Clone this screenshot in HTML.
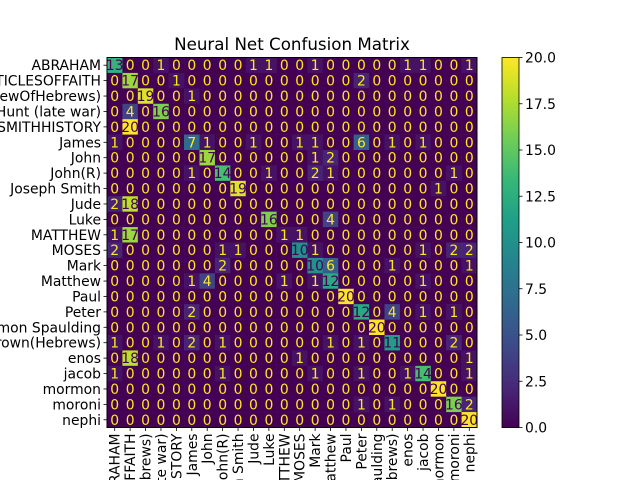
<!DOCTYPE html>
<html><head><meta charset="utf-8"><style>
html,body{margin:0;padding:0;background:#fff;width:640px;height:480px;overflow:hidden;}
svg{display:block;overflow:hidden;font-family:"DejaVu Sans","Liberation Sans",sans-serif;}
</style></head><body>
<svg id="chart" width="640" height="480" viewBox="0 0 640 480">
<text x="292" y="50" font-size="16.7" text-anchor="middle" fill="#000">Neural Net Confusion Matrix</text>
<g id="cells"></g>
<g id="ylab"></g>
<g id="xlab"></g>
<g id="cbar"></g>
</svg>
<script>
const rowLabels = ["ABRAHAM ","ARTICLESOFFAITH ","(ReviewOfHebrews)","Hunt (late war)","JOSEPHSMITHHISTORY ","James","John","John(R)","Joseph Smith","Jude","Luke","MATTHEW ","MOSES ","Mark","Matthew","Paul","Peter","Solomon Spaulding","Brown(Hebrews)","enos","jacob","mormon","moroni","nephi"];
const colLabels = ["ABRAHAM","ARTICLESOFFAITH","(ReviewOfHebrews)","Hunt (late war)","SMITHHISTORY","James","John","John(R)","Joseph Smith","Jude","Luke","MATTHEW","MOSES","Mark","Matthew","Paul","Peter","Solomon Spaulding","Brown(Hebrews)","enos","jacob","mormon","moroni","nephi"];
const matrix = [
[13,0,0,1,0,0,0,0,0,1,1,0,0,1,0,0,0,0,0,1,1,0,0,1],
[0,17,0,0,1,0,0,0,0,0,0,0,0,0,0,0,2,0,0,0,0,0,0,0],
[0,0,19,0,0,1,0,0,0,0,0,0,0,0,0,0,0,0,0,0,0,0,0,0],
[0,4,0,16,0,0,0,0,0,0,0,0,0,0,0,0,0,0,0,0,0,0,0,0],
[0,20,0,0,0,0,0,0,0,0,0,0,0,0,0,0,0,0,0,0,0,0,0,0],
[1,0,0,0,0,7,1,0,0,1,0,0,1,1,0,0,6,0,1,0,1,0,0,0],
[0,0,0,0,0,0,17,0,0,0,0,0,0,1,2,0,0,0,0,0,0,0,0,0],
[0,0,0,0,0,1,0,14,0,0,1,0,0,2,1,0,0,0,0,0,0,0,1,0],
[0,0,0,0,0,0,0,0,19,0,0,0,0,0,0,0,0,0,0,0,0,1,0,0],
[2,18,0,0,0,0,0,0,0,0,0,0,0,0,0,0,0,0,0,0,0,0,0,0],
[0,0,0,0,0,0,0,0,0,0,16,0,0,0,4,0,0,0,0,0,0,0,0,0],
[1,17,0,0,0,0,0,0,0,0,0,1,1,0,0,0,0,0,0,0,0,0,0,0],
[2,0,0,0,0,0,0,1,1,0,0,0,10,1,0,0,0,0,0,0,1,0,2,2],
[0,0,0,0,0,0,0,2,0,0,0,0,0,10,6,0,0,0,1,0,0,0,0,1],
[0,0,0,0,0,1,4,0,0,0,0,1,0,1,12,0,0,0,0,0,1,0,0,0],
[0,0,0,0,0,0,0,0,0,0,0,0,0,0,0,20,0,0,0,0,0,0,0,0],
[0,0,0,0,0,2,0,0,0,0,0,0,0,0,0,0,12,0,4,0,1,0,1,0],
[0,0,0,0,0,0,0,0,0,0,0,0,0,0,0,0,0,20,0,0,0,0,0,0],
[1,0,0,1,0,2,0,1,0,0,0,0,0,0,1,0,1,0,11,0,0,0,2,0],
[0,18,0,0,0,0,0,0,0,0,0,0,1,0,0,0,0,0,0,0,0,0,0,1],
[1,0,0,0,0,0,0,1,0,0,0,0,0,1,0,0,1,0,0,1,14,0,0,1],
[0,0,0,0,0,0,0,0,0,0,0,0,0,0,0,0,0,0,0,0,0,20,0,0],
[0,0,0,0,0,0,0,0,0,0,0,0,0,0,0,0,1,0,1,0,0,0,16,2],
[0,0,0,0,0,0,0,0,0,0,0,0,0,0,0,0,0,0,0,0,0,0,0,20]
];
const cbTicks = [0,2.5,5,7.5,10,12.5,15,17.5,20];
const cbTickLabels = ["0.0","2.5","5.0","7.5","10.0","12.5","15.0","17.5","20.0"];

const NS="http://www.w3.org/2000/svg";
const L=107, T=57.5, S=370, N=rowLabels.length, C=S/N, VMAX=20, FS=13.9;
const stops=[[68,1,84],[72,40,120],[62,74,137],[49,104,142],[38,130,142],[31,158,137],[53,183,121],[109,205,89],[180,222,44],[253,231,37]];
function viridis(t){t=Math.max(0,Math.min(1,t));const p=t*(stops.length-1);const i=Math.min(Math.floor(p),stops.length-2);const f=p-i;const a=stops[i],b=stops[i+1];return `rgb(${Math.round(a[0]+(b[0]-a[0])*f)},${Math.round(a[1]+(b[1]-a[1])*f)},${Math.round(a[2]+(b[2]-a[2])*f)})`;}
function xs(j){return L+j*C;}
function ys(i){return T+i*C;}
function mk(tag,attrs,parent){const e=document.createElementNS(NS,tag);for(const k in attrs)e.setAttribute(k,attrs[k]);parent.appendChild(e);return e;}
const cells=document.getElementById('cells');
for(let i=0;i<N;i++){for(let j=0;j<N;j++){
 const v=matrix[i][j];
 const r=mk('rect',{x:xs(j),y:ys(i),width:C+0.3,height:C+0.3,fill:viridis(v/VMAX)},cells);
 
 
 const t=mk('text',{x:xs(j)+C/2,y:ys(i)+C/2+5,'font-size':FS,'text-anchor':'middle',fill:v<VMAX/2?'#fde725':'#440154'},cells);
 t.textContent=v;
 
 
}}
mk('rect',{x:L,y:T,width:S,height:S,fill:'none',stroke:'#000','stroke-width':1},cells);
const yl=document.getElementById('ylab');
rowLabels.forEach((s,i)=>{
 const y=ys(i)+C/2;
 mk('line',{x1:L,x2:L-3.5,y1:y,y2:y,stroke:'#000','stroke-width':0.8},yl);
 const t=mk('text',{x:L-6,y:y+5,'font-size':FS,'text-anchor':'end',fill:'#000','xml:space':'preserve'},yl);
 t.textContent=s;
 
 
});
const xl=document.getElementById('xlab');
colLabels.forEach((s,j)=>{
 const x=xs(j)+C/2;
 mk('line',{x1:x,x2:x,y1:T+S,y2:T+S+3.5,stroke:'#000','stroke-width':0.8},xl);
 const t=mk('text',{x:0,y:0,'font-size':FS,'text-anchor':'end',fill:'#000',transform:`translate(${x+5},${T+S+6}) rotate(-90)`},xl);
 t.textContent=s;
 
 
});
const cb=document.getElementById('cbar');
const CBX=502, CBW=17;
for(let k=0;k<200;k++){
 const r=mk('rect',{x:CBX,y:T+S-(k+1)*S/200,width:CBW,height:S/200+0.5,fill:viridis((k+0.5)/200)},cb);
 
 
}
mk('rect',{x:CBX,y:T,width:CBW,height:S,fill:'none',stroke:'#000','stroke-width':0.8},cb);
cbTicks.forEach((v,k)=>{
 const y=T+S-v/VMAX*S;
 mk('line',{x1:CBX+CBW,x2:CBX+CBW+3.5,y1:y,y2:y,stroke:'#000','stroke-width':0.8},cb);
 const t=mk('text',{x:CBX+CBW+6,y:y+5,'font-size':FS,fill:'#000'},cb);
 t.textContent=cbTickLabels[k];
 
 
});
</script>
</body></html>
